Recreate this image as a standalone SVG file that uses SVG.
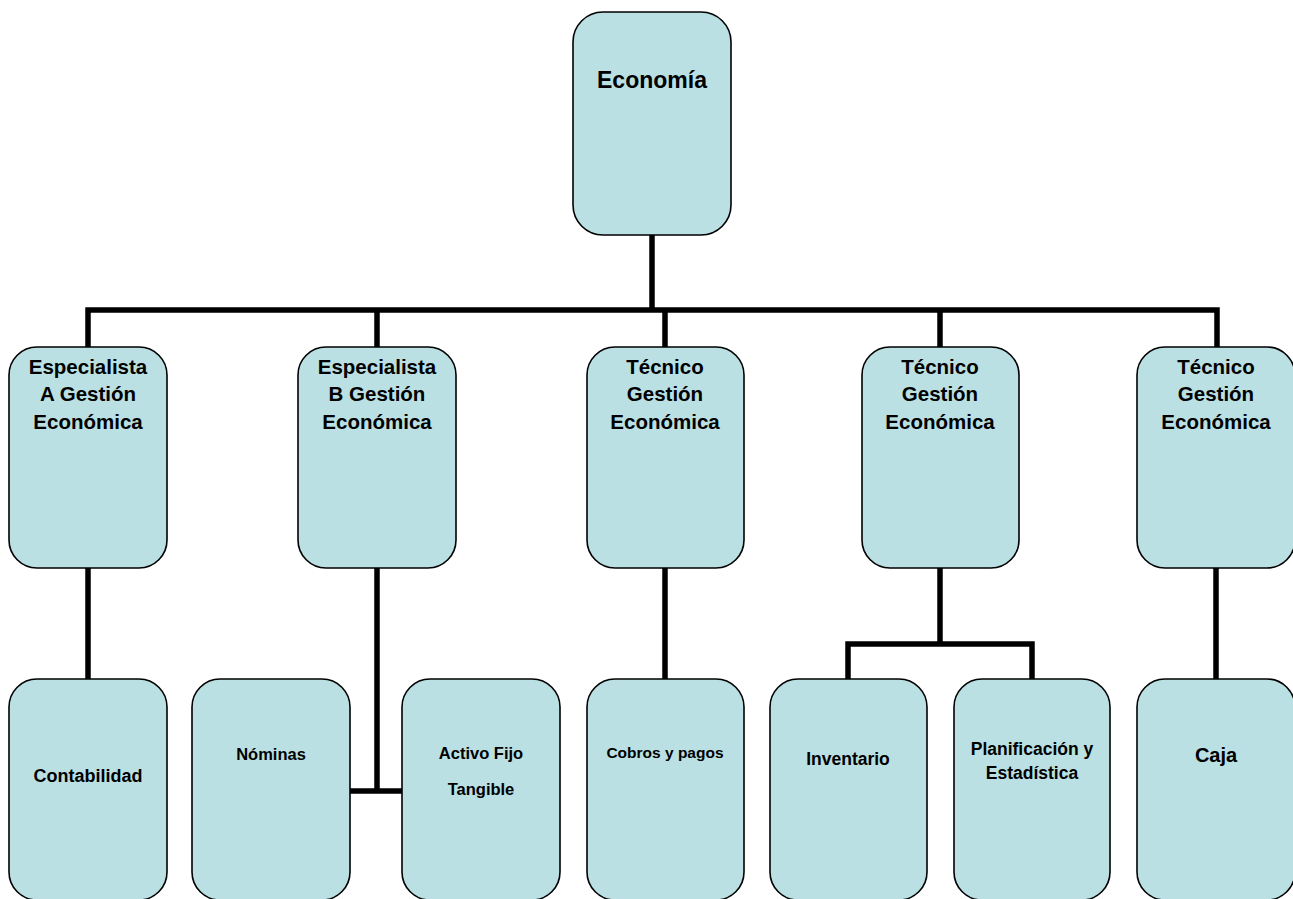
<svg xmlns="http://www.w3.org/2000/svg" width="1293" height="899" viewBox="0 0 1293 899">
<style>
.box{fill:#bae0e3;stroke:#000;stroke-width:1.6}
.t{font-family:"Liberation Sans",Arial,sans-serif;font-weight:bold;fill:#000;text-anchor:middle}
.c{fill:none;stroke:#000;stroke-width:5.5;stroke-linecap:butt;stroke-linejoin:miter}
</style>
<rect width="1293" height="899" fill="#fff"/>
<g id="connectors">
<path class="c" d="M652 235V310"/>
<path class="c" d="M88 347V310H1217V347"/>
<path class="c" d="M377 310V347M665 310V347M940 310V347"/>
<path class="c" d="M88 568V679"/>
<path class="c" d="M377 568V791M350 791H402"/>
<path class="c" d="M665 568V679"/>
<path class="c" d="M940 568V644M848 679V644H1032V679"/>
<path class="c" d="M1216 568V679"/>
</g>
<g id="economia">
<rect class="box" x="573" y="12" width="158" height="223" rx="30"/>
<text class="t" x="652" y="88" font-size="23">Economía</text>
</g>
<g id="especialista-a">
<rect class="box" x="9" y="347" width="158" height="221" rx="28"/>
<text class="t" font-size="20.5"><tspan x="88" y="374">Especialista</tspan><tspan x="88" y="401">A Gestión</tspan><tspan x="88" y="429">Económica</tspan></text>
</g>
<g id="especialista-b">
<rect class="box" x="298" y="347" width="158" height="221" rx="28"/>
<text class="t" font-size="20.5"><tspan x="377" y="374">Especialista</tspan><tspan x="377" y="401">B Gestión</tspan><tspan x="377" y="429">Económica</tspan></text>
</g>
<g id="tecnico-1">
<rect class="box" x="587" y="347" width="157" height="221" rx="28"/>
<text class="t" font-size="20.5"><tspan x="665" y="374">Técnico</tspan><tspan x="665" y="401">Gestión</tspan><tspan x="665" y="429">Económica</tspan></text>
</g>
<g id="tecnico-2">
<rect class="box" x="862" y="347" width="157" height="221" rx="28"/>
<text class="t" font-size="20.5"><tspan x="940" y="374">Técnico</tspan><tspan x="940" y="401">Gestión</tspan><tspan x="940" y="429">Económica</tspan></text>
</g>
<g id="tecnico-3">
<rect class="box" x="1137" y="347" width="158" height="221" rx="28"/>
<text class="t" font-size="20.5"><tspan x="1216" y="374">Técnico</tspan><tspan x="1216" y="401">Gestión</tspan><tspan x="1216" y="429">Económica</tspan></text>
</g>
<g id="contabilidad">
<rect class="box" x="9" y="679" width="158" height="221" rx="28"/>
<text class="t" x="88" y="782" font-size="18">Contabilidad</text>
</g>
<g id="nominas">
<rect class="box" x="192" y="679" width="158" height="221" rx="28"/>
<text class="t" x="271" y="760" font-size="16.5">Nóminas</text>
</g>
<g id="activo-fijo">
<rect class="box" x="402" y="679" width="158" height="221" rx="28"/>
<text class="t" font-size="16.5"><tspan x="481" y="759">Activo Fijo</tspan><tspan x="481" y="795">Tangible</tspan></text>
</g>
<g id="cobros">
<rect class="box" x="587" y="679" width="157" height="221" rx="28"/>
<text class="t" x="665" y="758" font-size="15.5">Cobros y pagos</text>
</g>
<g id="inventario">
<rect class="box" x="770" y="679" width="157" height="221" rx="28"/>
<text class="t" x="848" y="765" font-size="17.5">Inventario</text>
</g>
<g id="planificacion">
<rect class="box" x="954" y="679" width="156" height="221" rx="28"/>
<text class="t" font-size="17.5"><tspan x="1032" y="755">Planificación y</tspan><tspan x="1032" y="779">Estadística</tspan></text>
</g>
<g id="caja">
<rect class="box" x="1137" y="679" width="158" height="221" rx="28"/>
<text class="t" x="1216" y="762" font-size="20">Caja</text>
</g>
</svg>
